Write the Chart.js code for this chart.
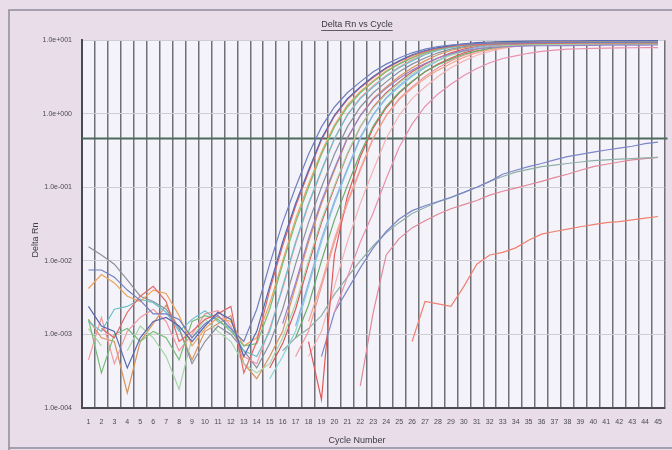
<!DOCTYPE html>
<html><head><meta charset="utf-8">
<script src="https://cdn.jsdelivr.net/npm/chart.js@4/dist/chart.umd.min.js"></script>
<style>html,body{margin:0;padding:0;background:#e9dde9;}canvas{display:block}</style>
</head><body>
<canvas id="c" width="672" height="450"></canvas>
<script>
const _ = null;
const cycles = ['1','2','3','4','5','6','7','8','9','10','11','12','13','14','15','16','17','18','19','20','21','22','23','24','25','26','27','28','29','30','31','32','33','34','35','36','37','38','39','40','41','42','43','44','45'];
const yTicks = [0.0001, 0.001, 0.01, 0.1, 1, 10];
const yTickLabels = ['1.0e-004','1.0e-003','1.0e-002','1.0e-001','1.0e+000','1.0e+001'];
const thresholdValue = 0.46;
const chartTitle = 'Delta Rn vs Cycle';
const xTitle = 'Cycle Number';
const yTitle = 'Delta Rn';

const well01 = [0.0075,0.0075,0.006,0.004,0.0029,0.0019,0.0019,0.0016,0.0009,0.0014,0.0018,0.0012,0.0008,0.0022,0.009,0.033,0.10,0.28,0.66,1.23,1.92,2.7,3.7,4.7,5.7,6.7,7.5,8.15,8.55,8.8,8.95,9.05,9.1,9.15,9.2,9.2,9.25,9.25,9.3,9.3,9.3,9.3,9.35,9.35,9.35];
const well02 = [0.0024,0.0013,0.0011,0.00035,0.0009,0.0015,0.0017,0.0013,0.0008,0.0013,0.002,0.0016,0.0005,0.0011,0.0045,0.018,0.06,0.17,0.46,0.95,1.6,2.3,3.2,4.2,5.2,6.3,7.2,7.9,8.4,8.9,9.2,9.4,9.5,9.6,9.65,9.7,9.7,9.75,9.75,9.8,9.8,9.8,9.8,9.85,9.85];
const well03 = [_,0.0012,0.0009,0.002,0.0033,0.0045,0.0028,0.0008,0.0011,0.0016,0.0019,0.0024,0.0003,0.0008,0.004,0.016,0.055,0.16,0.44,0.92,1.55,2.25,3.1,4.1,5.1,6.1,7.0,7.7,8.2,8.5,8.7,8.8,8.9,8.95,9.0,9.0,9.05,9.05,9.1,9.1,9.1,9.1,9.15,9.15,9.15];
const well04 = [0.0016,0.0003,0.001,0.0012,0.0008,0.0011,0.0009,0.00045,0.0015,0.0018,0.0016,0.0011,0.0007,0.00075,0.0022,0.009,0.033,0.10,0.28,0.66,1.23,1.92,2.7,3.7,4.7,5.7,6.7,7.5,8.15,8.55,8.8,8.95,9.05,9.1,9.15,9.2,9.2,9.25,9.25,9.3,9.3,9.3,9.3,9.35,9.35];
const well05 = [0.0042,0.0065,0.005,0.0033,0.0028,0.004,0.0036,0.0018,0.0007,0.0012,0.0017,0.0015,0.0007,0.0009,0.0026,0.010,0.037,0.11,0.30,0.70,1.3,2.0,2.8,3.8,4.8,5.8,6.8,7.6,8.3,8.7,9.0,9.2,9.3,9.4,9.45,9.5,9.5,9.55,9.55,9.6,9.6,9.6,9.6,9.65,9.65];
const well06 = [0.0015,0.0011,0.0022,0.0024,0.003,0.0027,0.002,0.0011,0.0016,0.0021,0.0015,0.0012,0.0006,0.0005,0.0011,0.0045,0.018,0.06,0.17,0.46,0.95,1.6,2.3,3.2,4.2,5.2,6.3,7.2,7.9,8.4,8.7,8.9,9.0,9.1,9.15,9.2,9.2,9.25,9.25,9.3,9.3,9.3,9.3,9.35,9.35];
const well07 = [_,_,_,_,_,_,_,_,_,_,_,_,_,_,_,0.0014,0.005,0.02,0.065,0.18,0.47,0.93,1.55,2.2,3.0,3.9,4.8,5.7,6.5,7.1,7.6,7.9,8.1,8.2,8.3,8.35,8.4,8.4,8.45,8.45,8.5,8.5,8.5,8.5,8.55];
const well08 = [0.00045,0.0017,0.0004,0.0011,0.0017,0.0022,0.0015,0.0006,0.0010,0.0019,0.0021,0.0013,0.0005,0.0004,0.0012,0.0042,0.017,0.058,0.165,0.45,0.97,1.65,2.4,3.3,4.3,5.4,6.5,7.4,8.1,8.6,8.9,9.1,9.2,9.3,9.35,9.4,9.4,9.45,9.45,9.5,9.5,9.5,9.5,9.55,9.55];
const well09 = [0.0155,0.012,0.009,0.0055,0.0033,0.0028,0.0022,0.0012,0.0004,0.0008,0.0013,0.001,0.0006,0.00035,0.00075,0.0022,0.009,0.033,0.10,0.28,0.66,1.23,1.92,2.7,3.7,4.7,5.7,6.7,7.5,8.15,8.55,8.8,8.95,9.05,9.1,9.15,9.2,9.2,9.25,9.25,9.3,9.3,9.3,9.3,9.35];
const well10 = [0.0012,0.0007,_,0.0006,0.0013,0.0009,0.0005,0.00018,0.0009,0.0016,0.0011,0.0008,0.0004,0.0003,0.0004,0.0009,0.0026,0.010,0.036,0.105,0.29,0.67,1.2,1.85,2.6,3.5,4.4,5.3,6.2,7.0,7.6,8.0,8.3,8.45,8.55,8.6,8.65,8.7,8.7,8.75,8.75,8.8,8.8,8.8,8.8];
const well11 = [0.0016,0.0009,0.0008,0.00016,0.0008,0.0014,0.0025,0.0012,0.00045,0.0011,0.0014,0.0018,0.0004,0.00025,0.0005,0.0011,0.0045,0.018,0.06,0.17,0.46,0.95,1.6,2.3,3.2,4.2,5.2,6.3,7.2,7.9,8.4,8.7,8.9,9.0,9.1,9.15,9.2,9.2,9.25,9.25,9.3,9.3,9.3,9.3,9.35];
const well12 = [_,_,_,_,_,_,_,_,_,_,_,_,_,_,_,_,0.0013,0.005,0.02,0.065,0.18,0.48,0.98,1.65,2.4,3.3,4.3,5.3,6.4,7.3,8.0,8.5,8.8,9.0,9.1,9.2,9.25,9.3,9.3,9.35,9.35,9.4,9.4,9.4,9.4];
const well13 = [_,_,_,_,_,_,_,_,_,_,_,_,_,_,0.00035,0.00075,0.0022,0.009,0.033,0.10,0.28,0.66,1.23,1.92,2.7,3.7,4.7,5.7,6.7,7.5,8.15,8.55,8.8,8.95,9.05,9.1,9.15,9.2,9.2,9.25,9.25,9.3,9.3,9.3,9.3];
const well14 = [_,_,_,_,_,_,_,_,_,_,_,_,_,_,_,_,0.0009,0.0025,0.010,0.036,0.105,0.29,0.68,1.25,1.95,2.75,3.7,4.6,5.5,6.4,7.1,7.7,8.1,8.35,8.5,8.6,8.65,8.7,8.75,8.75,8.8,8.8,8.85,8.85,8.85];
const well15 = [_,_,_,_,_,_,_,_,_,_,_,_,_,_,0.00025,0.0005,0.0011,0.0045,0.018,0.06,0.17,0.46,0.95,1.6,2.3,3.2,4.2,5.2,6.3,7.2,7.9,8.4,8.7,8.9,9.0,9.1,9.15,9.2,9.2,9.25,9.25,9.3,9.3,9.3,9.3];
const well16 = [_,_,_,_,_,_,_,_,_,_,_,_,_,_,_,_,_,0.0015,0.005,0.02,0.064,0.18,0.47,0.93,1.55,2.2,3.0,3.9,4.8,5.8,6.7,7.4,7.9,8.3,8.55,8.7,8.8,8.85,8.9,8.9,8.95,8.95,9.0,9.0,9.0];
const well17 = [_,_,_,_,_,_,_,_,_,_,_,_,_,_,_,_,_,0.0008,0.00013,0.012,0.075,0.26,0.64,1.2,1.9,2.7,3.7,4.7,5.7,6.7,7.5,8.15,8.55,8.8,8.95,9.05,9.1,9.15,9.2,9.2,9.25,9.25,9.3,9.3,9.3];
const well18 = [_,_,_,_,_,_,_,_,_,_,_,_,_,_,_,_,0.0005,0.0011,0.0045,0.018,0.06,0.17,0.46,0.95,1.6,2.3,3.2,4.2,5.2,6.2,7.0,7.7,8.2,8.5,8.7,8.85,8.95,9.0,9.05,9.1,9.1,9.15,9.15,9.2,9.2];
const well19 = [_,_,_,_,_,_,_,_,_,_,_,_,_,_,_,_,_,0.0005,0.0011,0.0045,0.018,0.06,0.17,0.46,0.95,1.6,2.3,3.2,4.2,5.2,6.2,7.0,7.7,8.2,8.5,8.7,8.85,8.95,9.0,9.05,9.1,9.1,9.15,9.15,9.2];
const well20 = [_,_,_,_,_,_,_,_,_,_,_,_,_,_,_,_,_,_,_,0.002,0.006,0.018,0.045,0.13,0.35,0.72,1.25,1.85,2.5,3.3,4.1,4.9,5.6,6.1,6.6,7.0,7.3,7.5,7.6,7.7,7.75,7.8,7.85,7.9,7.9];
const late1 = [_,_,_,_,_,_,_,_,_,_,_,_,_,_,_,_,_,_,0.0005,0.002,0.004,0.008,0.015,0.025,0.037,0.048,0.056,0.064,0.073,0.085,0.1,0.12,0.15,0.17,0.19,0.21,0.235,0.26,0.28,0.30,0.32,0.34,0.36,0.39,0.41];
const late2 = [_,_,_,_,_,_,_,_,_,_,_,_,_,_,_,0.0006,0.0009,0.0012,0.0018,0.0035,0.006,0.01,0.016,0.024,0.033,0.044,0.053,0.063,0.072,0.085,0.1,0.12,0.14,0.16,0.175,0.19,0.2,0.21,0.22,0.23,0.235,0.24,0.245,0.25,0.255];
const late3 = [_,_,_,_,_,_,_,_,_,_,_,_,_,_,_,_,_,_,_,_,_,0.0002,0.002,0.012,0.02,0.028,0.035,0.043,0.051,0.058,0.066,0.078,0.088,0.097,0.108,0.12,0.135,0.15,0.17,0.19,0.205,0.22,0.235,0.245,0.255];
const late4 = [_,_,_,_,_,_,_,_,_,_,_,_,_,_,_,_,_,_,_,_,_,_,_,_,_,0.0008,0.0028,0.0026,0.0024,0.0045,0.009,0.012,0.013,0.015,0.019,0.023,0.025,0.027,0.029,0.031,0.033,0.034,0.036,0.038,0.04];

const series = [
  [well01,'#6f7fc0'],[well02,'#5567b0'],[well03,'#e06a6a'],[well04,'#78bc78'],
  [well05,'#f0a258'],[well06,'#6cc0c8'],[well07,'#9a82c8'],[well08,'#f29aa0'],
  [well09,'#8a909c'],[well10,'#a6d6a6'],[well11,'#d8945c'],[well12,'#8eb0e6'],
  [well13,'#d85858'],[well14,'#68ac68'],[well15,'#88d4d4'],[well16,'#f2a690'],
  [well17,'#e05858'],[well18,'#f09898'],[well19,'#f4b4b4'],[well20,'#e890aa'],
  [late1,'#7c86c8'],[late2,'#8fb0a8'],[late3,'#e08898'],[late4,'#f08070']
];

const framePlugin = {
  id: 'frame',
  beforeDraw(chart) {
    const {ctx, chartArea: a} = chart;
    ctx.save();
    ctx.fillStyle = '#e9dde9';
    ctx.fillRect(0, 0, chart.width, chart.height);
    ctx.strokeStyle = '#8f8c9c';
    ctx.lineWidth = 1.5;
    ctx.beginPath();
    ctx.moveTo(9, 452); ctx.lineTo(9, 10); ctx.lineTo(675, 10);
    ctx.moveTo(9, 448); ctx.lineTo(675, 448);
    ctx.stroke();
    ctx.fillStyle = '#f5f3fa';
    ctx.fillRect(a.left, a.top, a.right - a.left, a.bottom - a.top);
    ctx.restore();
  },
  beforeDatasetsDraw(chart) {
    const {ctx, chartArea: a, scales} = chart;
    const y = scales.y.getPixelForValue(thresholdValue);
    ctx.save();
    ctx.strokeStyle = '#4d6a5c';
    ctx.lineWidth = 2;
    ctx.beginPath();
    ctx.moveTo(a.left, y); ctx.lineTo(a.right + 3, y);
    ctx.stroke();
    ctx.restore();
  },
  afterDraw(chart) {
    const {ctx} = chart;
    ctx.save();
    ctx.fillStyle = '#3a3a44';
    ctx.font = '9px "Liberation Sans", Arial, sans-serif';
    ctx.textAlign = 'center';
    ctx.textBaseline = 'middle';
    ctx.fillText(chartTitle, 357, 25);
    const w = ctx.measureText(chartTitle).width;
    ctx.strokeStyle = '#3a3a44';
    ctx.lineWidth = 0.8;
    ctx.beginPath();
    ctx.moveTo(357 - w / 2, 30.5); ctx.lineTo(357 + w / 2, 30.5);
    ctx.stroke();
    ctx.fillText(xTitle, 357, 441);
    ctx.translate(36, 240);
    ctx.rotate(-Math.PI / 2);
    ctx.fillText(yTitle, 0, 0);
    ctx.restore();
  }
};

new Chart(document.getElementById('c'), {
  type: 'line',
  data: {
    labels: cycles,
    datasets: series.map(([d, c]) => ({
      data: d, borderColor: c, borderWidth: 1.2, pointRadius: 0,
      tension: 0, spanGaps: false, fill: false
    }))
  },
  options: {
    responsive: false,
    animation: false,
    devicePixelRatio: 1,
    layout: {padding: {left: 10, right: 7, top: 40, bottom: 0}},
    plugins: {legend: {display: false}, tooltip: {enabled: false}, title: {display: false}},
    scales: {
      x: {
        type: 'category',
        offset: true,
        afterFit(s) { s.height = 42; },
        grid: {offset: true, color: '#707078', lineWidth: 1.5, drawTicks: false},
        border: {color: '#4a4a52', width: 2},
        ticks: {autoSkip: false, maxRotation: 0, padding: 10, color: '#4a4a55',
                font: {size: 7, family: '"Liberation Sans", Arial, sans-serif'}}
      },
      y: {
        type: 'logarithmic',
        min: 0.0001, max: 10,
        afterFit(s) { s.width = 72; },
        afterBuildTicks(s) { s.ticks = yTicks.map(v => ({value: v})); },
        grid: {color: '#cdcdd3', lineWidth: 1, drawTicks: false},
        border: {color: '#4a4a52', width: 2},
        ticks: {padding: 10, color: '#4a4a55',
                font: {size: 7, family: '"Liberation Sans", Arial, sans-serif'},
                callback: (v, i) => yTickLabels[i]}
      }
    }
  },
  plugins: [framePlugin]
});
</script>
</body></html>
